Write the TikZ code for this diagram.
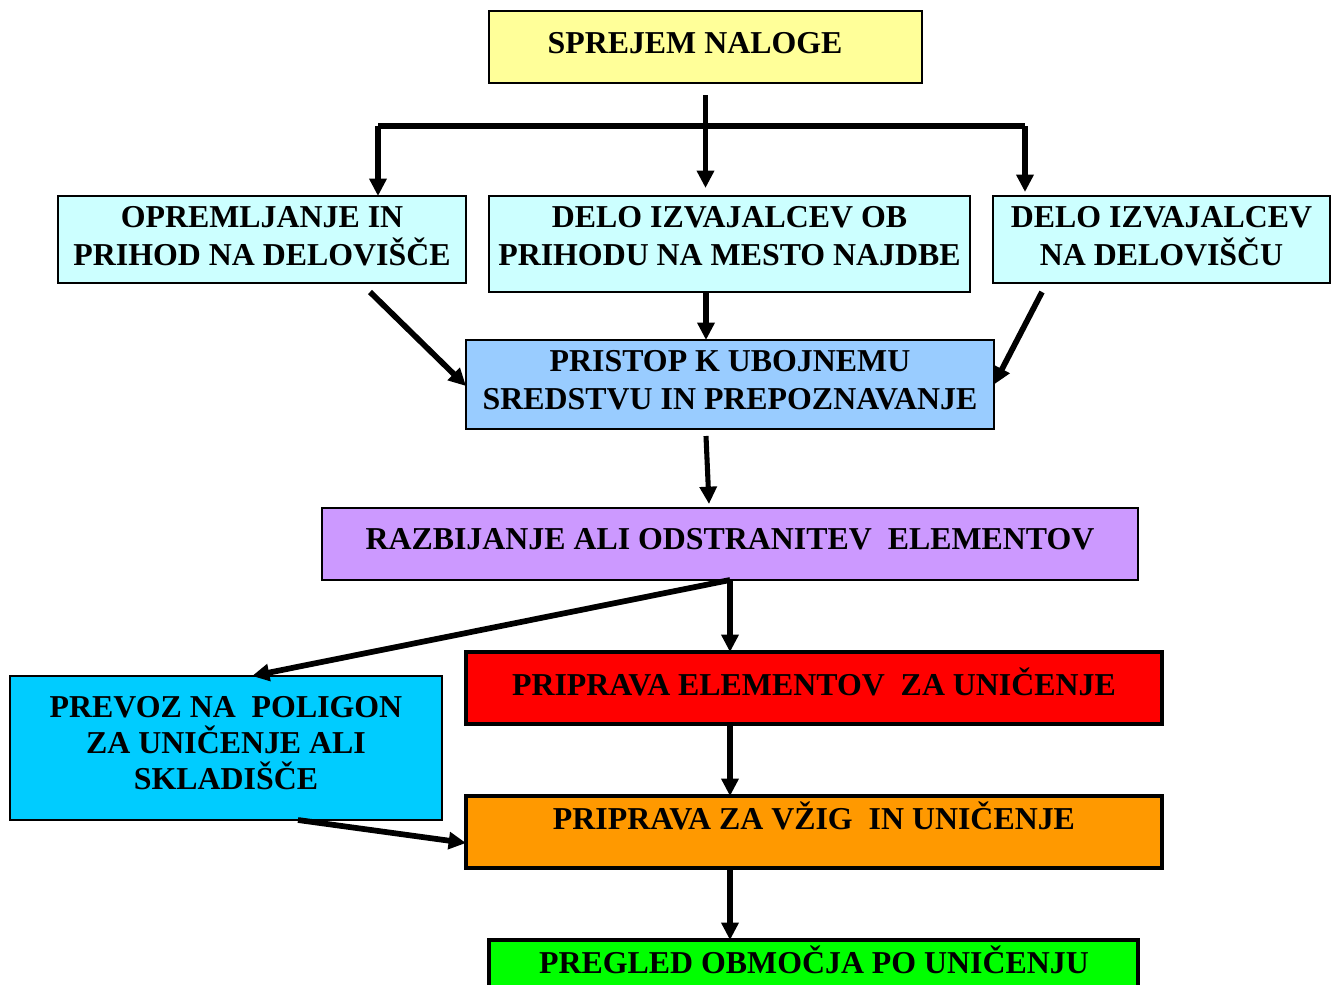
\documentclass[tikz,border=0pt]{standalone}
\usepackage{fontspec}
\setmainfont{Liberation Serif}
\usetikzlibrary{arrows.meta,fit,calc}
\definecolor{cyel}{HTML}{FFFF99}
\definecolor{clcy}{HTML}{CCFFFF}
\definecolor{clbl}{HTML}{99CCFF}
\definecolor{clav}{HTML}{CC99FF}
\definecolor{ccya}{HTML}{00CCFF}
\definecolor{cred}{HTML}{FF0000}
\definecolor{cora}{HTML}{FF9900}
\definecolor{cgre}{HTML}{00FF00}
\begin{document}
\begin{tikzpicture}[x=0.75pt,y=-0.75pt,
  box/.style={draw=black, line width=1.8pt, inner sep=0pt, outer sep=0pt},
  boxthick/.style={box, line width=2.6pt},
  txt/.style={inner sep=0pt, font=\bfseries\fontsize{23.9pt}{28pt}\selectfont, anchor=base},
  arr/.style={line width=3.8pt, -{Triangle[length=13pt,width=12.5pt]}},
  bar/.style={line width=4.3pt}]
\useasboundingbox (0,0) rectangle (1332,985);
% boxes
\node[box, fill=cyel, fit={(489,11) (922,83)}] (sprejem) {};
\node[box, fill=clcy, fit={(58,196) (466,283)}] (opr) {};
\node[box, fill=clcy, fit={(489,196) (970,292)}] (delo2) {};
\node[box, fill=clcy, fit={(993,196) (1330,283)}] (delo3) {};
\node[box, fill=clbl, fit={(466,340) (994,429)}] (pristop) {};
\node[box, fill=clav, fit={(322,508) (1138,580)}] (razb) {};
\node[box, fill=ccya, fit={(10,676) (442,820)}] (prevoz) {};
\node[boxthick, fill=cred, fit={(466,652) (1162,724)}] (prip1) {};
\node[boxthick, fill=cora, fit={(466,796) (1162,868)}] (prip2) {};
\node[boxthick, fill=cgre, fit={(489,940) (1138,1000)}] (pregled) {};
% texts
\node[txt] (t1) at (695,53) {SPREJEM NALOGE};
\node[txt] (t2a) at (262,227) {OPREMLJANJE IN};
\node[txt] (t2b) at (262,265) {PRIHOD NA DELOVIŠČE};
\node[txt] (t3a) at (729.5,227) {DELO IZVAJALCEV OB};
\node[txt] (t3b) at (729.5,265) {PRIHODU NA MESTO NAJDBE};
\node[txt] (t4a) at (1161.5,227) {DELO IZVAJALCEV};
\node[txt] (t4b) at (1161.5,265) {NA DELOVIŠČU};
\node[txt] (t5a) at (730,371) {PRISTOP K UBOJNEMU};
\node[txt] (t5b) at (730,409) {SREDSTVU IN PREPOZNAVANJE};
\node[txt] (t6) at (730,549) {RAZBIJANJE ALI ODSTRANITEV\ \ ELEMENTOV};
\node[txt] (t7) at (814,695) {PRIPRAVA ELEMENTOV\ \ ZA UNIČENJE};
\node[txt] (t8a) at (226,717) {PREVOZ NA\ \ POLIGON};
\node[txt] (t8b) at (226,753) {ZA UNIČENJE ALI};
\node[txt] (t8c) at (226,789) {SKLADIŠČE};
\node[txt] (t9) at (814,829) {PRIPRAVA ZA VŽIG\ \ IN UNIČENJE};
\node[txt] (t10) at (814,973) {PREGLED OBMOČJA PO UNIČENJU};
% connectors
\coordinate (barL) at (378,126);
\coordinate (barR) at (1025,126);
\draw[bar] (barL) -- (barR);
\draw[arr, shorten <=9pt, shorten >=6pt] (sprejem.south) -- (sprejem.south |- delo2.north);
\draw[arr] (barL) -- (barL |- opr.north);
\draw[arr, shorten >=3pt] (barR) -- (barR |- delo3.north);
\draw[arr, line width=4.3pt] ($(opr.south)+(108,9)$) -- ($(pristop.west)+(0,1.5)$);
\draw[arr] ($(delo2.south)+(-23.5,0)$) -- ($(pristop.north)+(-24,0)$);
\draw[arr, line width=4.3pt] ($(delo3.south)+(-119.5,9)$) -- (pristop.east);
\draw[arr] ($(pristop.south)+(-24,7)$) -- ($(razb.north)+(-21,-4)$);
\draw[arr] (razb.south) -- (razb.south |- prip1.north);
\draw[arr, line width=4.3pt] (razb.south) -- ($(prevoz.north)+(26,0)$);
\draw[arr] (razb.south |- prip1.south) -- (razb.south |- prip2.north);
\draw[arr, line width=4.3pt] ($(prevoz.south)+(72,0)$) -- ($(prip2.west)+(0,11)$);
\draw[arr] (razb.south |- prip2.south) -- (razb.south |- pregled.north);
\end{tikzpicture}
\end{document}
